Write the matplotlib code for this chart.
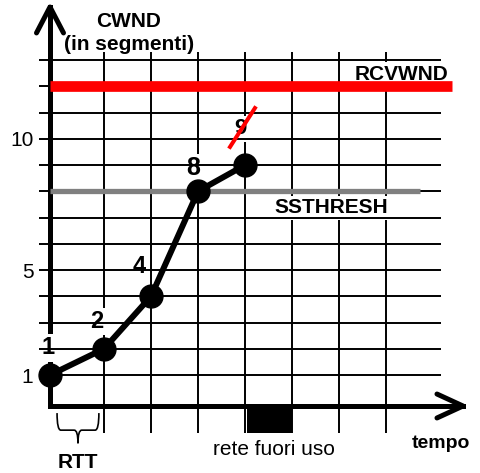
import matplotlib
matplotlib.use("Agg")
import matplotlib.pyplot as plt
from matplotlib.patches import Rectangle, PathPatch
from matplotlib.path import Path

plt.rcParams["font.family"] = ["Liberation Sans", "DejaVu Sans"]

# tempo in RTT, the first segment goes out on the axis
tempo = [0, 1.15, 2.15, 3.15, 4.15]
cwnd = [1, 2, 4, 8, 9]
cwnd_labels = ["1", "2", "4", "8", "9"]
label_size = [17, 17, 17, 18, 16]
label_offset = [(-1.5, 15), (-5.5, 15), (-8.5, 16.5), (-3.5, 11.5), (-3.5, 22)]  # points

grid_x = [1.15, 2.15, 3.15, 4.15, 5.15, 6.15, 7.15]
grid_y = list(range(1, 14))
y_ticks = [1, 5, 10]

rcvwnd = 12
ssthresh = 8
fuori_uso = (4.2, 5.15)  # rete fuori uso

x_axis_y = -0.18

fig = plt.figure(figsize=(4.8, 4.73), dpi=100)
ax = fig.add_axes([50 / 480, 67 / 473, 413 / 480, 399 / 473])
ax.set_xlim(0, 8.787)
ax.set_ylim(x_axis_y, 15.02)

for side in ["top", "right"]:
    ax.spines[side].set_visible(False)
for side in ["left", "bottom"]:
    ax.spines[side].set_linewidth(3.6)
    ax.spines[side].set_capstyle("projecting")
ax.spines["left"].set_zorder(1)

ax.set_xticks([])
ax.set_yticks(y_ticks)
ax.tick_params(axis="y", length=0, pad=12, labelsize=15)

# arrow heads on the axes
ax.plot([-0.0327, 0, 0.0327], [0.935, 1, 0.935], transform=ax.transAxes,
        color="black", lw=3.6, clip_on=False, solid_capstyle="round", zorder=3)
ax.plot([0.937, 1, 0.937], [0.030, 0, -0.030], transform=ax.transAxes,
        color="black", lw=3.6, clip_on=False, solid_capstyle="round", zorder=3)

# grid
ax.vlines(grid_x, -1.21, 13.3, color="black", lw=1.4, clip_on=False, zorder=1)
ax.hlines(grid_y, -0.234, 8.32, color="black", lw=1.4, clip_on=False, zorder=3)

# thresholds
ax.hlines(rcvwnd, 0, 8.55, color="#ff0000", lw=7.7, clip_on=False, zorder=4)
ax.hlines(ssthresh, 0, 7.87, color="#808080", lw=3.8, clip_on=False, zorder=4)

box = dict(boxstyle="square,pad=0.12", fc="white", ec="none")
ax.text(7.47, 12.24, "RCVWND", ha="center", va="baseline", fontsize=15,
        fontweight="bold", bbox=box, zorder=2)
ax.text(5.98, 7.17, "SSTHRESH", ha="center", va="baseline", fontsize=15,
        fontweight="bold", bbox=box, zorder=2)

# cwnd curve
ax.plot(tempo, cwnd, color="black", lw=4.3, marker="o", ms=16.5,
        clip_on=False, zorder=5)
for t, c, lab, fs, off in zip(tempo, cwnd, cwnd_labels, label_size, label_offset):
    ax.annotate(lab, (t, c), xytext=off, textcoords="offset points",
                ha="center", va="baseline", fontsize=fs, fontweight="bold",
                bbox=dict(boxstyle="square,pad=0.1", fc="white", ec="none"),
                zorder=2)
# 9 is struck out
ax.plot([tempo[-1] - 0.32, tempo[-1] + 0.21], [cwnd[-1] + 0.69, cwnd[-1] + 2.17],
        color="#ff0000", lw=2.9, zorder=6)

# axis titles
ax.text(1.68, 14.26, "CWND", ha="center", va="baseline", fontsize=15,
        fontweight="bold", clip_on=False)
ax.text(1.68, 13.38, "(in segmenti)", ha="center", va="baseline", fontsize=15,
        fontweight="bold", clip_on=False)
ax.text(8.32, -1.78, "tempo", ha="center", va="baseline", fontsize=14,
        fontweight="bold", clip_on=False)

# rete fuori uso
ax.add_patch(Rectangle((fuori_uso[0], -1.21), fuori_uso[1] - fuori_uso[0],
                       x_axis_y + 1.21, fc="black", ec="none", clip_on=False,
                       zorder=2))
ax.text(sum(fuori_uso) / 2 + 0.1, -2.05, "rete fuori uso", ha="center",
        va="baseline", fontsize=15, clip_on=False)

# RTT brace
x0, x1 = 0.15, 1.04
xm = (x0 + x1) / 2
y_top, y_mid, y_tip = -0.45, -1.1, -1.6
dx = 0.08
verts = [(x0, y_top), (x0, y_mid), (x0 + dx, y_mid), (xm - dx, y_mid),
         (xm, y_mid), (xm, y_tip),
         (x1, y_top), (x1, y_mid), (x1 - dx, y_mid), (xm + dx, y_mid),
         (xm, y_mid), (xm, y_tip)]
codes = [Path.MOVETO, Path.CURVE3, Path.CURVE3, Path.LINETO,
         Path.CURVE3, Path.CURVE3,
         Path.MOVETO, Path.CURVE3, Path.CURVE3, Path.LINETO,
         Path.CURVE3, Path.CURVE3]
ax.add_patch(PathPatch(Path(verts, codes), fc="none", ec="black", lw=1.2,
                       clip_on=False))
ax.text(xm, -2.54, "RTT", ha="center", va="baseline", fontsize=15,
        fontweight="bold", clip_on=False)

fig.savefig("out.png", dpi=100)
